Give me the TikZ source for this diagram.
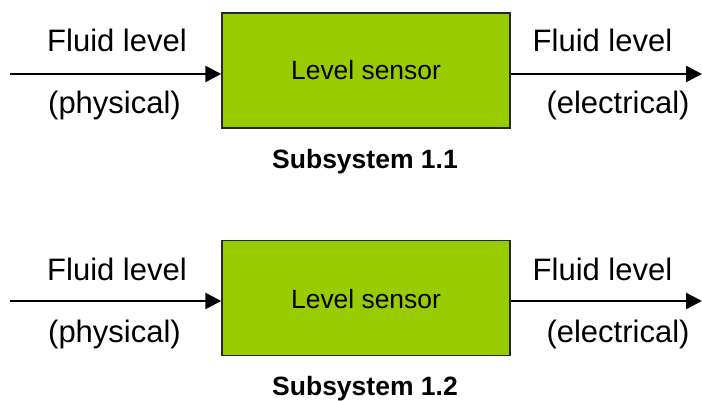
\documentclass[tikz,border=0pt]{standalone}
\usepackage{fontspec}
\setmainfont{Liberation Sans}
\usetikzlibrary{arrows.meta}
\definecolor{boxgreen}{HTML}{99CC00}
\tikzset{
  sensorbox/.style={draw=black!85, line width=1.5pt, fill=boxgreen, minimum width=288pt, minimum height=115pt, inner sep=0pt},
  sig/.style={line width=2.5pt, -{Triangle[length=16pt,width=16pt]}},
  lbl/.style={inner sep=0pt, anchor=base, font=\fontsize{31}{34}\selectfont},
  boxlbl/.style={inner sep=0pt, anchor=base, font=\fontsize{26.4}{29}\selectfont},
  subcap/.style={inner sep=0pt, anchor=base, font=\bfseries\fontsize{26.5}{29}\selectfont}
}
\begin{document}
\begin{tikzpicture}[x=1pt,y=-1pt]
\useasboundingbox (0,0) rectangle (702,401);
% row 1
\node[sensorbox] (box1) at (366,70.5) {};
\node[boxlbl] (t1) at (366,80) {Level sensor};
\node[subcap] (c1) at (365,168) {Subsystem 1.1};
\coordinate (in1) at (10,74);
\coordinate (out1) at (702,74);
\draw[sig] (in1) -- (in1 -| box1.west);
\draw[sig] (out1 -| box1.east) -- (out1);
\node[lbl] (l1a) at (117,52) {Fluid level};
\node[lbl] (l1b) at (114.5,114) {(physical)};
\node[lbl] (r1a) at (602.5,52) {Fluid level};
\node[lbl] (r1b) at (618,114) {(electrical)};
% row 2
\node[sensorbox] (box2) at (366,298) {};
\node[boxlbl] (t2) at (366,308) {Level sensor};
\node[subcap] (c2) at (365,395) {Subsystem 1.2};
\coordinate (in2) at (10,301);
\coordinate (out2) at (702,301);
\draw[sig] (in2) -- (in2 -| box2.west);
\draw[sig] (out2 -| box2.east) -- (out2);
\node[lbl] (l2a) at (117,280) {Fluid level};
\node[lbl] (l2b) at (114.5,342) {(physical)};
\node[lbl] (r2a) at (602.5,280) {Fluid level};
\node[lbl] (r2b) at (618,342) {(electrical)};
\end{tikzpicture}
\end{document}
